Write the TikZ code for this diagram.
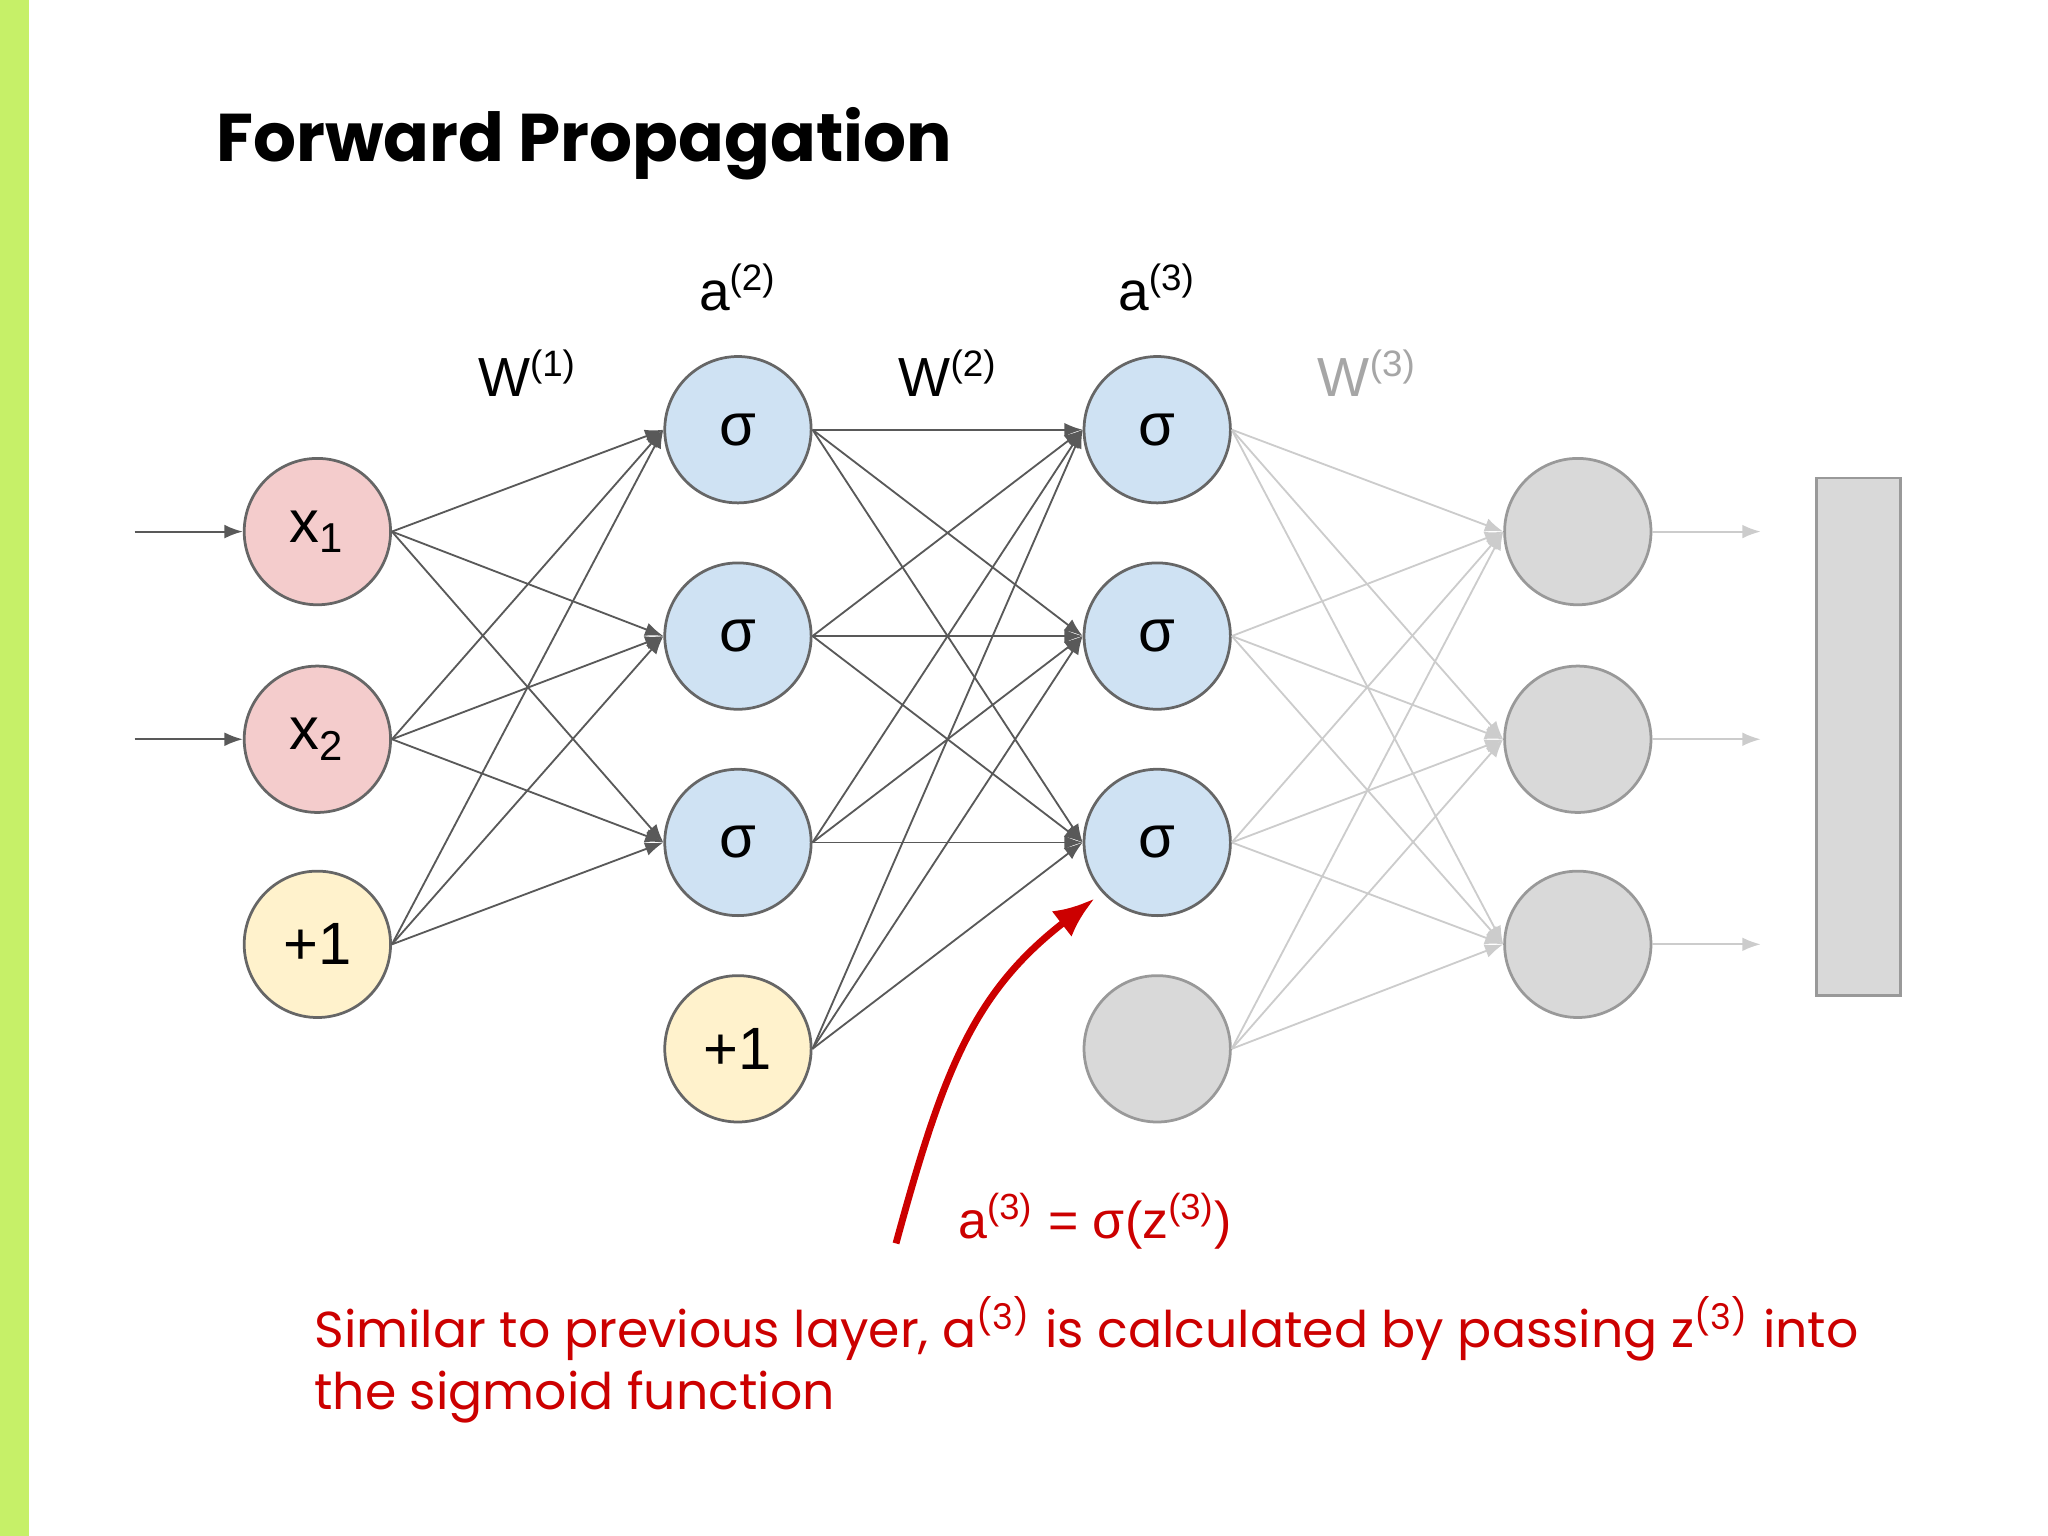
\documentclass[tikz,border=0pt]{standalone}
\usepackage{fontspec}
\setmainfont{Liberation Sans}
\newfontfamily\pop{Poppins}
\usetikzlibrary{arrows.meta}
\definecolor{pinkf}{HTML}{F4CCCC}
\definecolor{bluef}{HTML}{CFE2F3}
\definecolor{yelf}{HTML}{FFF2CC}
\definecolor{greyf}{HTML}{D9D9D9}
\definecolor{greenbar}{HTML}{C6F068}
\definecolor{redc}{HTML}{CC0000}
\begin{document}
\begin{tikzpicture}[x=0.01cm,y=-0.01cm,
  neuron/.style={circle,minimum size=1.12cm,inner sep=0pt,draw=black!60,line width=0.6pt,font=\fontsize{13}{15}\selectfont},
  gneuron/.style={neuron,fill=greyf,draw=black!40},
  e/.style={draw=black!65,line width=0.4pt,-{Latex[length=4pt,width=3pt]}},
  ge/.style={draw=black!20,line width=0.4pt,-{Latex[length=4pt,width=3pt]}},
  lab/.style={font=\fontsize{12}{14}\selectfont}]
\useasboundingbox (0,0) rectangle (1568,1176);
\fill[greenbar] (0,0) rectangle (22,1176);
\node[anchor=west,inner sep=0pt,font=\pop\bfseries\fontsize{14.7}{18}\selectfont] (title) at (165,110) {Forward Propagation};
% layer 1
\node[neuron,fill=pinkf] (x1) at (243,407) {x\textsubscript{1}};
\node[neuron,fill=pinkf] (x2) at (243,566) {x\textsubscript{2}};
\node[neuron,fill=yelf] (b1) at (243,723) {+1};
% layer 2
\foreach \i/\y in {1/329,2/487,3/645}{\node[neuron,fill=bluef] (h\i) at (565,\y) {σ};}
\node[neuron,fill=yelf] (h4) at (565,803) {+1};
% layer 3
\foreach \i/\y in {1/329,2/487,3/645}{\node[neuron,fill=bluef] (g\i) at (886,\y) {σ};}
\node[gneuron] (g4) at (886,803) {};
% output
\foreach \i/\y in {1/407,2/566,3/723}{\node[gneuron] (o\i) at (1208,\y) {};
  \coordinate (oe\i) at (1348,\y);
  \draw[ge] (o\i) -- (oe\i);}
\node[draw=black!40,fill=greyf,minimum width=0.64cm,minimum height=3.96cm,inner sep=0pt,line width=0.6pt] (box) at (1423,564) {};
% input arrows
\coordinate (in1) at (103,407);
\coordinate (in2) at (103,566);
\draw[e] (in1) -- (x1);
\draw[e] (in2) -- (x2);
% edges
\foreach \a in {x1,x2,b1}{\foreach \b in {h1,h2,h3}{\draw[e] (\a.east) -- (\b.west);}}
\foreach \a in {h1,h2,h3,h4}{\foreach \b in {g1,g2,g3}{\draw[e] (\a.east) -- (\b.west);}}
\foreach \a in {g1,g2,g3,g4}{\foreach \b in {o1,o2,o3}{\draw[ge] (\a.east) -- (\b.west);}}
% labels
\node[lab] (la2) at (565,220) {a\textsuperscript{(2)}};
\node[lab] (la3) at (886,220) {a\textsuperscript{(3)}};
\node[lab] (lw1) at (404,286) {W\textsuperscript{(1)}};
\node[lab] (lw2) at (726,286) {W\textsuperscript{(2)}};
\node[lab,text=black!35] (lw3) at (1047,286) {W\textsuperscript{(3)}};
% red annotation
\coordinate (rs) at (686,952);
\coordinate (re) at (838,688);
\draw[redc,line width=1.5pt,-{Latex[length=9pt,width=7pt]}] (rs) .. controls (722,820) and (745,760) .. (re);
\node[text=redc,anchor=west,inner sep=0pt,font=\fontsize{11.3}{13}\selectfont] (form) at (733,935) {a\textsuperscript{(3)} = σ(z\textsuperscript{(3)})};
\node[anchor=north west,text=redc,align=left,font=\pop\fontsize{11}{13.4}\selectfont,inner sep=0pt] (desc) at (240,992)
 {Similar to previous layer, a\textsuperscript{(3)} is calculated by passing z\textsuperscript{(3)} into\\the sigmoid function};
\end{tikzpicture}
\end{document}
